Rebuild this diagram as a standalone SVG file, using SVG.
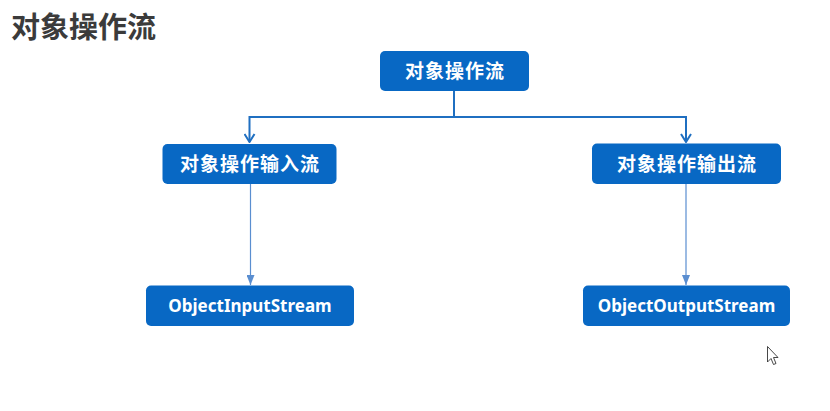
<svg xmlns="http://www.w3.org/2000/svg" width="830" height="411" viewBox="0 0 830 411">
<defs>
<style>
.box{fill:#0868c4;}
.cn{font-family:"Noto Sans CJK SC","Noto Sans",sans-serif;font-weight:bold;font-size:19px;fill:#ffffff;text-anchor:middle;letter-spacing:1px;}
.en{font-family:"Noto Sans","Open Sans",sans-serif;font-weight:bold;font-size:17px;fill:#ffffff;text-anchor:middle;}
.thick{stroke:#1f6fc1;stroke-width:2;fill:none;}
.thin{stroke:#5a8ed0;stroke-width:1.2;fill:none;}
</style>
<marker id="open" viewBox="0 0 12 10" refX="6" refY="9" markerWidth="12" markerHeight="10" markerUnits="userSpaceOnUse" orient="0">
<path d="M1,1 L6,9 L11,1" fill="none" stroke="#1f6fc1" stroke-width="2"/>
</marker>
<marker id="fill" viewBox="0 0 8 10" refX="4" refY="10" markerWidth="8" markerHeight="10" markerUnits="userSpaceOnUse" orient="0">
<path d="M0,0 L8,0 L4,10 Z" fill="#5a8ed0"/>
</marker>
</defs>
<rect width="830" height="411" fill="#ffffff"/>
<text x="11" y="37.5" style="font-family:'Noto Sans CJK SC',sans-serif;font-weight:bold;font-size:29px;fill:#3b3b3b;">对象操作流</text>
<g id="connectors">
<path class="thick" d="M454,91 V117 H249.5 V142" marker-end="url(#open)"/>
<path class="thick" d="M454,117 H686 V142" marker-end="url(#open)"/>
<path class="thin" d="M250.5,184 V285" marker-end="url(#fill)"/>
<path class="thin" d="M686,184 V285" marker-end="url(#fill)"/>
</g>
<g id="root">
<rect class="box" x="380" y="51" width="149" height="40" rx="5"/>
<text class="cn" x="455" y="78">对象操作流</text>
</g>
<g id="input">
<rect class="box" x="162.5" y="144" width="174" height="40" rx="5"/>
<text class="cn" x="250" y="171">对象操作输入流</text>
</g>
<g id="output">
<rect class="box" x="592" y="143.5" width="189" height="40.5" rx="5"/>
<text class="cn" x="687" y="171">对象操作输出流</text>
</g>
<g id="ois">
<rect class="box" x="146" y="285.5" width="208" height="40.5" rx="5"/>
<text class="en" x="250" y="311.5">ObjectInputStream</text>
</g>
<g id="oos">
<rect class="box" x="583" y="285.5" width="207" height="40.5" rx="5"/>
<text class="en" x="686.5" y="311.5">ObjectOutputStream</text>
</g>
<path d="M767.5,346.5 V362 L771,358.5 L773.5,364.5 L776,363.5 L773.5,357.5 L778,357.5 Z" fill="#ffffff" stroke="#333333" stroke-width="0.9" stroke-linejoin="round"/>
</svg>
